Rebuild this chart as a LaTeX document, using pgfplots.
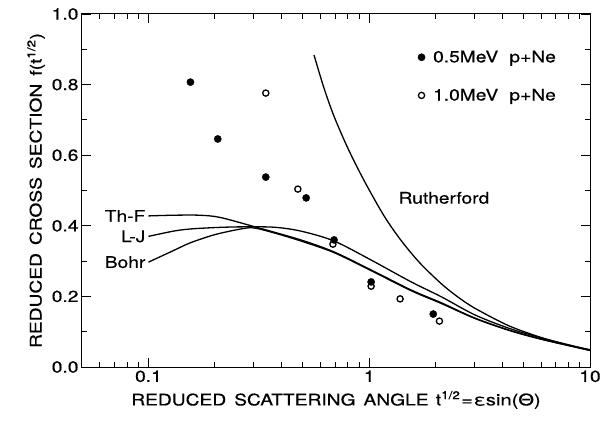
\documentclass[border=0pt]{standalone}
\usepackage{fontspec}
\usepackage{graphicx}
\setmainfont{TeX Gyre Heros}[FakeStretch=1.2, FakeBold=0.5]
\usepackage{pgfplots}
\pgfplotsset{compat=1.18}
\newcommand{\fs}{\fontsize{16}{18}\selectfont}
\begin{document}
\begin{tikzpicture}
\begin{axis}[
  scale only axis, width=508pt, height=353pt,
  xmode=log, xmin=0.05, xmax=10, ymin=0, ymax=1,
  xtick={0.1,1,10}, xticklabels={0.1,1,10},
  minor xtick={0.06,0.07,0.08,0.09,0.2,0.3,0.4,0.5,0.6,0.7,0.8,0.9,2,3,4,5,6,7,8,9},
  ytick={0,0.2,0.4,0.6,0.8,1.0}, minor ytick={0.1,0.3,0.5,0.7,0.9},
  tick align=inside, major tick length=9pt, minor tick length=5pt,
  every tick/.style={line width=0.9pt, black},
  axis line style={line width=1pt},
  yticklabel style={/pgf/number format/.cd, fixed, fixed zerofill, precision=1, assume math mode=true},
  ticklabel style={font=\fs},
  label style={font=\fs},
  xlabel={REDUCED\hspace{0.5em}SCATTERING\hspace{0.5em}ANGLE\hspace{0.45em}t\textsuperscript{1/2}\hspace{1pt}=\hspace{1pt}\scalebox{1.05}[1]{εsin(Θ)}},
  ylabel={REDUCED\hspace{0.5em}CROSS\hspace{0.5em}SECTION\hspace{0.5em}f(t\textsuperscript{1/2})},
  xlabel style={yshift=-2pt},
  legend style={draw=none, fill=none, at={(rel axis cs:0.655,0.908)}, anchor=north west,
    font=\fs, row sep=21pt, legend cell align=left},
]
\addplot[only marks, mark=*, mark size=3.6pt, fill=black] coordinates {
  (0.155,0.807) (0.206,0.646) (0.340,0.538) (0.518,0.479) (0.693,0.360)
  (1.02,0.241) (1.95,0.150)
};
\addlegendentry{\hspace{6pt}0.5MeV\hspace{0.7em}p+Ne}
\addplot[only marks, mark=o, mark size=3.1pt, line width=1.3pt] coordinates {
  (0.340,0.776) (0.475,0.504) (0.685,0.348) (1.02,0.229) (1.38,0.193) (2.08,0.130)
};
\addlegendentry{\hspace{6pt}1.0MeV\hspace{0.7em}p+Ne}
% Rutherford
\addplot[black, line width=1.3pt, smooth, forget plot] coordinates {
  (0.562,0.884) (0.624,0.79) (0.693,0.71) (0.80,0.62) (0.95,0.527) (1.17,0.427)
  (1.40,0.357) (1.7,0.294) (2.12,0.236) (2.5,0.2) (3.0,0.167) (4.28,0.117)
  (6.05,0.083) (8,0.062) (10,0.049)
};
% L-J
\addplot[black, line width=1.3pt, smooth, forget plot] coordinates {
  (0.1,0.370) (0.13,0.385) (0.155,0.391) (0.2,0.395) (0.262,0.397) (0.37,0.396)
  (0.49,0.385) (0.693,0.357) (1.02,0.303) (1.55,0.241) (2.12,0.199) (3.0,0.148)
  (4.28,0.110) (6.05,0.082) (10,0.048)
};
% Th-F
\addplot[black, line width=1.3pt, smooth, forget plot] coordinates {
  (0.1,0.428) (0.13,0.430) (0.17,0.430) (0.21,0.424) (0.3,0.398) (0.49,0.360)
  (0.693,0.326) (1.02,0.275) (1.55,0.218) (2.12,0.182) (3.0,0.139) (4.28,0.105)
  (6.05,0.079) (10,0.047)
};
% Bohr
\addplot[black, line width=1.3pt, smooth, forget plot] coordinates {
  (0.1,0.297) (0.13,0.330) (0.155,0.352) (0.2,0.375) (0.262,0.391) (0.3,0.394)
  (0.37,0.380) (0.49,0.357) (0.693,0.324) (1.02,0.273) (1.55,0.216) (2.12,0.180)
  (3.0,0.138) (4.28,0.104) (6.05,0.078) (10,0.047)
};
\node[anchor=east, inner sep=0pt, font=\fs] at (axis cs:0.097,0.428) {Th-F};
\node[anchor=east, inner sep=0pt, font=\fs] at (axis cs:0.097,0.370) {L-J};
\node[anchor=east, inner sep=0pt, font=\fs] at (axis cs:0.097,0.297) {Bohr};
\node[anchor=west, inner sep=0pt, font=\fs] at (axis cs:1.355,0.479) {Rutherford};
\end{axis}
\pgfresetboundingbox
\path[use as bounding box] (-82pt,-54pt) rectangle (526pt,367pt);
\end{tikzpicture}
\end{document}
